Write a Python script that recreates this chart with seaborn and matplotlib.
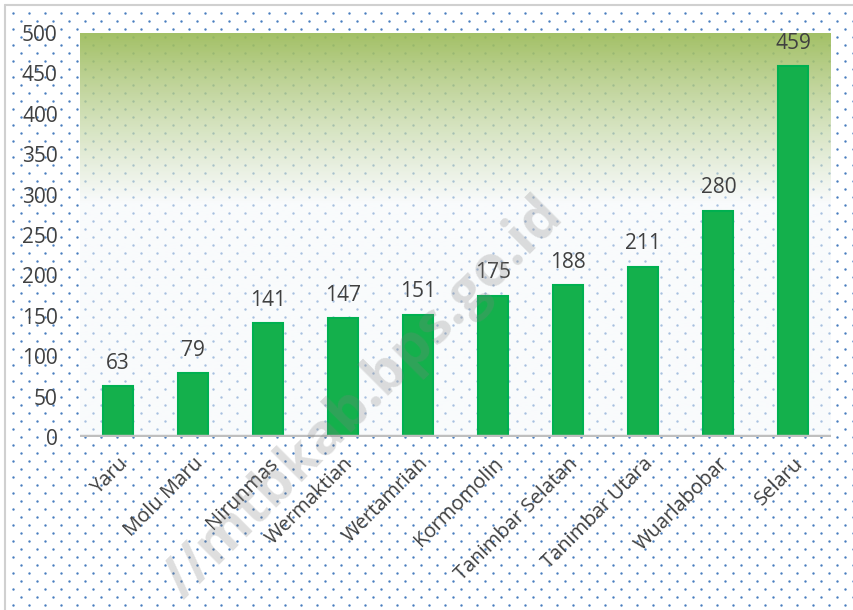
import numpy as np
import matplotlib
matplotlib.use('Agg')
import matplotlib.pyplot as plt
import seaborn as sns

sns.set_style('white')
plt.rcParams['font.family'] = ['Open Sans', 'DejaVu Sans']

districts = ['Yaru', 'Molu Maru', 'Nirunmas', 'Wermaktian', 'Wertamrian',
             'Kormomolin', 'Tanimbar Selatan', 'Tanimbar Utara', 'Wuarlabobar', 'Selaru']
counts = [63, 79, 141, 147, 151, 175, 188, 211, 280, 459]
yticks = [0, 50, 100, 150, 200, 250, 300, 350, 400, 450, 500]

W, H = 854, 610
fig = plt.figure(figsize=(W / 100, H / 100), dpi=100)

# dotted background texture over the whole chart area
bg = fig.add_axes([0, 0, 1, 1], zorder=-1)
bg.set_xlim(0, W)
bg.set_ylim(H, 0)
bg.axis('off')
gx, gy = np.meshgrid(np.arange(12.7, W, 16), np.arange(12.7, H, 16))
bg.scatter(gx.ravel(), gy.ravel(), s=3, color='#4a7ebf', linewidths=0)
bg.scatter(gx.ravel() + 8, gy.ravel() + 8, s=3, color='#4a7ebf', linewidths=0)
bg.plot([5, W], [5, 5], color='#d0d0d0', lw=1.5)
bg.plot([5, 5], [5, H], color='#d0d0d0', lw=1.5)

ax = fig.add_axes([80 / W, (H - 437) / H, 751 / W, 404 / H])
ax.patch.set_alpha(0)

# plot area gradient: olive green at top fading to near white by ~300
v = np.linspace(500, 0, 300)
top = np.array([155, 187, 89]) / 255
low = np.array([245, 248, 251]) / 255
t = np.clip((v - 290) / 210, 0, 1) ** 0.85
rgb = low[None, :] * (1 - t[:, None]) + top[None, :] * t[:, None]
alpha = 0.55 + 0.37 * t
img = np.concatenate([rgb, alpha[:, None]], axis=1)[:, None, :]
ax.imshow(img, extent=(-0.5, 9.5, 0, 500), aspect='auto', zorder=0,
          interpolation='bilinear')

sns.barplot(x=districts, y=counts, ax=ax, color='#14b04c', saturation=1,
            width=0.4, edgecolor='#00b050', linewidth=1.5, zorder=2)

ax.axhline(0, color='#bfbfbf', lw=3.2, zorder=3)
ax.set_xlim(-0.5, 9.5)
ax.set_ylim(0, 500)
ax.set_yticks(yticks)
ax.set_yticklabels([str(y) for y in yticks])
for s in ax.spines.values():
    s.set_visible(False)
ax.tick_params(axis='y', length=0, pad=16, labelsize=15, labelcolor='#404040')
ax.tick_params(axis='x', length=0, pad=12, labelsize=14.5, labelcolor='#404040')
plt.setp(ax.get_xticklabels(), rotation=45, ha='right', rotation_mode='anchor')
ax.set_xlabel('')
ax.set_ylabel('')

ax.bar_label(ax.containers[0], labels=[str(c) for c in counts], padding=9,
             fontsize=15, color='#404040')

# watermark
fig.text(565 / W, 1 - 218 / H, '//mtbkab.bps.go.id', rotation=45,
         rotation_mode='anchor', ha='right', va='baseline', fontsize=41,
         fontweight='bold', color='#808080', alpha=0.26, zorder=10)

fig.savefig('out.png', dpi=100)
